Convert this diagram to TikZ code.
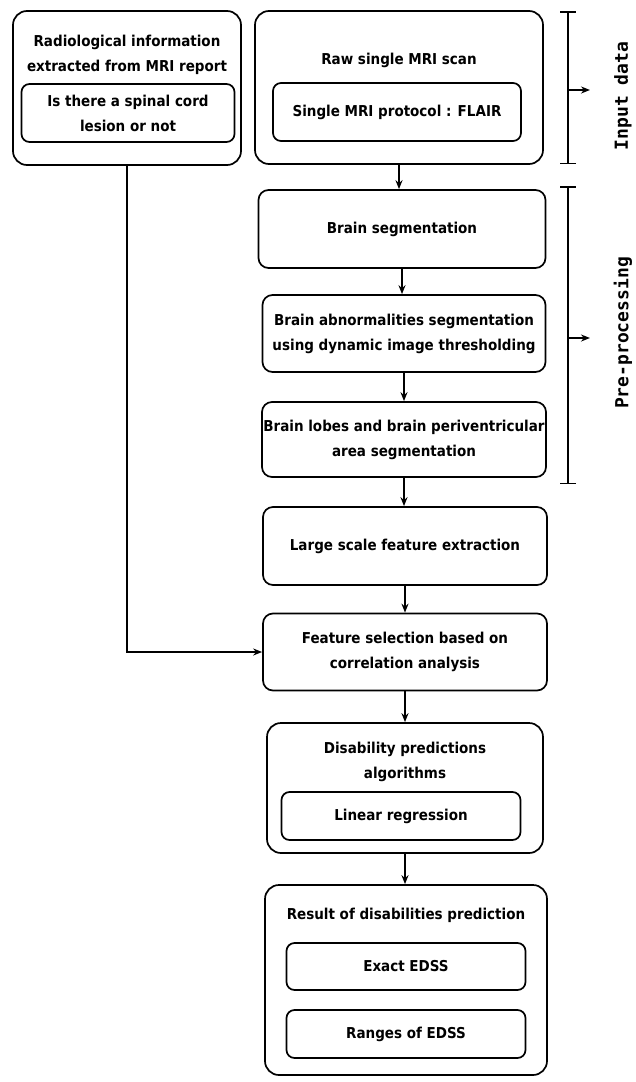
\documentclass[tikz,border=0pt]{standalone}
\usepackage{fontspec}
\setmainfont{DejaVu Sans Condensed Bold}
\newfontfamily\sidefont{DejaVu Sans Mono Bold}
\usetikzlibrary{arrows.meta}
\begin{document}
\begin{tikzpicture}[
    x=1pt, y=-1pt,
    >={Stealth[length=9pt, width=7pt]},
    line width=1.7pt,
    outerbox/.style={draw, rounded corners=14pt, inner sep=0pt},
    stepbox/.style={draw, rounded corners=10pt, align=center, inner sep=0pt},
    innerbox/.style={draw, rounded corners=8pt, align=center, inner sep=0pt},
    title/.style={align=center, inner sep=0pt},
    side/.style={font=\sidefont\fontsize{18}{20}\selectfont, rotate=90, inner sep=0pt},
    bracket/.style={{Bar[width=16pt]}-{Bar[width=16pt]}, line width=1.5pt},
    every node/.append style={font=\fontsize{15}{25}\selectfont}
]
  \useasboundingbox (0,0) rectangle (635,1082);

  % nodes
  \node[outerbox, minimum width=228pt, minimum height=154pt] (radio) at (127,88) {};
  \node[title] (radiot) at (127,55) {Radiological information\\extracted from MRI report};
  \node[innerbox, minimum width=213pt, minimum height=58pt] (lesion) at (128,113) {Is there a spinal cord\\lesion or not};

  \node[outerbox, minimum width=288pt, minimum height=153pt] (raw) at (399,87.5) {};
  \node[title] (rawt) at (399,60) {Raw single MRI scan};
  \node[innerbox, minimum width=248pt, minimum height=58pt] (flair) at (397,112) {Single MRI protocol : FLAIR};

  \node[stepbox, minimum width=287pt, minimum height=78pt] (brain) at (402,229) {Brain segmentation};
  \node[stepbox, minimum width=283pt, minimum height=77pt] (abnorm) at (404,333.5) {Brain abnormalities segmentation\\using dynamic image thresholding};
  \node[stepbox, minimum width=284pt, minimum height=75pt] (lobes) at (404,439.5) {Brain lobes and brain periventricular\\area segmentation};
  \node[stepbox, minimum width=284pt, minimum height=78pt] (extract) at (405,546) {Large scale feature extraction};
  \node[stepbox, minimum width=284pt, minimum height=77pt] (select) at (405,652) {Feature selection based on\\correlation analysis};

  \node[outerbox, minimum width=276pt, minimum height=130pt] (algo) at (405,788) {};
  \node[title] (algot) at (405,762) {Disability predictions\\algorithms};
  \node[innerbox, minimum width=239pt, minimum height=48pt] (linreg) at (401,816) {Linear regression};

  \node[outerbox, minimum width=282pt, minimum height=190pt] (result) at (406,980) {};
  \node[title] (resultt) at (406,915) {Result of disabilities prediction};
  \node[innerbox, minimum width=239pt, minimum height=47pt] (exact) at (406,966.5) {Exact EDSS};
  \node[innerbox, minimum width=239pt, minimum height=48pt] (ranges) at (406,1034) {Ranges of EDSS};

  % brackets
  \coordinate (intop) at (568,11);
  \coordinate (inbot) at (568,164);
  \coordinate (inmid) at (568,90);
  \coordinate (pretop) at (568,186);
  \coordinate (prebot) at (568,484);
  \coordinate (premid) at (568,338);
  \draw[bracket] (intop) -- (inbot);
  \draw[bracket] (pretop) -- (prebot);
  \node[side] (inlabel) at (623,96) {Input data};
  \node[side] (prelabel) at (623,333) {Pre-processing};

  % edges
  \draw[->] (inmid) -- ++(22,0);
  \draw[->] (premid) -- ++(22,0);
  \draw[->] (raw.south) -- (raw.south |- brain.north);
  \draw[->] (brain.south) -- (brain.south |- abnorm.north);
  \draw[->] (abnorm.south) -- (abnorm.south |- lobes.north);
  \draw[->] (lobes.south) -- (lobes.south |- extract.north);
  \draw[->] (extract.south) -- (extract.south |- select.north);
  \draw[->] (select.south) -- (select.south |- algo.north);
  \draw[->] (algo.south) -- (algo.south |- result.north);
  \draw[->] (radio.south) |- (select.west);
\end{tikzpicture}
\end{document}
